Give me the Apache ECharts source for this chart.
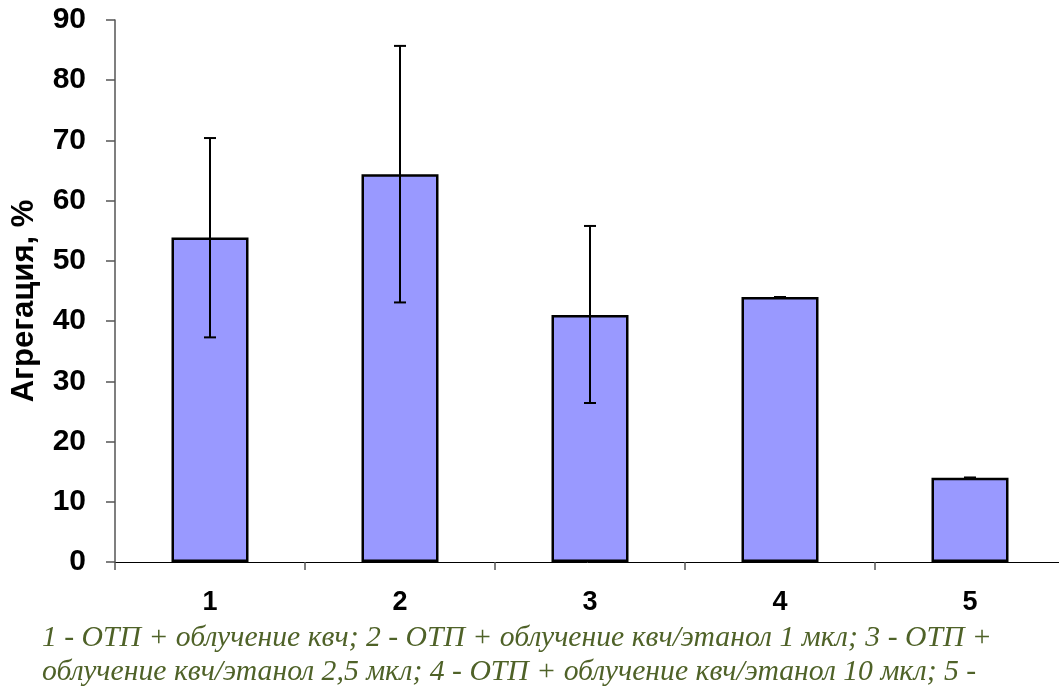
<!DOCTYPE html>
<html><head><meta charset="utf-8">
<script src="https://cdn.jsdelivr.net/npm/echarts@6/dist/echarts.min.js"></script>
<style>html,body{margin:0;padding:0;background:#fff;}#c{width:1059px;height:690px;position:relative;overflow:hidden;}
#cap{position:absolute;left:42px;top:619px;width:1015px;font-family:"Liberation Serif","Times New Roman",serif;font-style:italic;font-size:29.7px;line-height:34px;color:#4F6228;white-space:nowrap;}</style>
</head><body>
<div id="c"></div>
<script>
const categories = ['1','2','3','4','5'];
const values = [53.9, 64.4, 41.0, 44.0, 14.0];
const errLow = [37.3, 43.1, 26.4, 44.0, 14.0];
const errHigh = [70.4, 85.7, 55.8, 44.0, 14.0];
const yTicks = [0,10,20,30,40,50,60,70,80,90];
const captionLines = ['1 - ОТП + облучение квч; 2 - ОТП + облучение квч/этанол 1 мкл; 3 - ОТП +',
  'облучение квч/этанол 2,5 мкл; 4 - ОТП + облучение квч/этанол 10 мкл; 5 -'];

const chart = echarts.init(document.getElementById('c'), null, {renderer:'canvas'});
const font = '"Liberation Sans", Arial, sans-serif';
chart.setOption({
  animation:false,
  backgroundColor:'#fff',
  grid:{left:115, width:950, top:20, bottom:128, containLabel:false, outerBoundsMode:'none'},
  xAxis:{type:'category', data:categories, boundaryGap:true,
    axisLine:{lineStyle:{color:'#000', width:1}},
    axisTick:{show:true, length:8, inside:false, lineStyle:{color:'#555', width:1.5}},
    axisLabel:{color:'#000', fontFamily:font, fontWeight:'bold', fontSize:27, margin:27}},
  yAxis:{type:'value', min:0, max:90, interval:10,
    name:'Агрегация, %', nameLocation:'middle', nameGap:75, nameRotate:90,
    nameTextStyle:{color:'#000', fontFamily:font, fontWeight:'bold', fontSize:31, padding:[0,20,0,0]},
    axisLine:{show:true, lineStyle:{color:'#555', width:1.5}},
    axisTick:{show:true, length:9, lineStyle:{color:'#555', width:1.5}},
    splitLine:{show:false},
    axisLabel:{color:'#000', fontFamily:font, fontWeight:'bold', fontSize:30, margin:29,
      formatter:function(v){return yTicks.indexOf(v)>=0? String(v):'';}}},
  series:[
    {type:'bar', data:values, barWidth:77,
     itemStyle:{color:'#9999FF', borderColor:'#000', borderWidth:2.5}},
    {type:'custom', data:categories.map((c,i)=>[i, errLow[i], errHigh[i]]),
     z:5,
     renderItem:function(params, api){
       const x = api.value(0);
       const lo = api.coord([x, api.value(1)]);
       const hi = api.coord([x, api.value(2)]);
       const hw = 6;
       const st = {stroke:'#000', lineWidth:2};
       return {type:'group', children:[
         {type:'line', shape:{x1:lo[0], y1:lo[1], x2:hi[0], y2:hi[1]}, style:st},
         {type:'line', shape:{x1:lo[0]-hw, y1:lo[1], x2:lo[0]+hw, y2:lo[1]}, style:st},
         {type:'line', shape:{x1:hi[0]-hw, y1:hi[1], x2:hi[0]+hw, y2:hi[1]}, style:st}
       ]};
     }}
  ]
});
const cap = document.createElement('div');
cap.id='cap';
cap.innerHTML = captionLines.join('<br>');
document.getElementById('c').appendChild(cap);
</script>
</body></html>
